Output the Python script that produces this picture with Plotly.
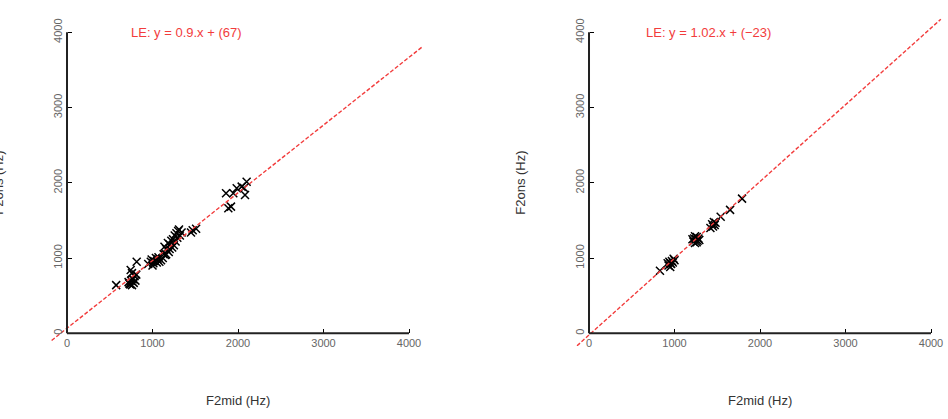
import plotly.graph_objects as go

# ---- data ----
left_mid = [575, 720, 740, 750, 760, 780, 770, 790, 760, 810, 745, 815, 730, 800,
            950, 980, 1000, 1020, 1040, 1060, 1080, 1100, 1050, 1120, 990, 1010, 1070, 1130, 1150,
            1140, 1160, 1180, 1200, 1220, 1240, 1260, 1280, 1300, 1320, 1290, 1270, 1250, 1230,
            1310, 1340, 1190, 1160, 1200,
            1470, 1510, 1450,
            1860, 1887, 1918, 1945, 1985, 2043, 2082, 2101, 2070]
left_ons = [640, 680, 650, 700, 640, 670, 720, 760, 800, 780, 840, 950, 660, 700,
            920, 950, 900, 960, 1000, 980, 950, 970, 940, 1000, 980, 930, 1010, 1050, 1040,
            1150, 1120, 1200, 1180, 1230, 1250, 1300, 1330, 1360, 1300, 1270, 1220, 1170, 1140,
            1380, 1340, 1080, 1050, 1120,
            1370, 1390, 1340,
            1860, 1661, 1683, 1860, 1927, 1949, 1838, 2015, 1930]

right_mid = [830, 930, 940, 950, 960, 970, 980, 990, 1000, 950, 920,
             1220, 1230, 1240, 1250, 1260, 1270, 1280, 1240, 1210, 1260, 1290,
             1420, 1440, 1460, 1470, 1480, 1450,
             1540, 1650, 1790]
right_ons = [830, 900, 950, 880, 920, 960, 940, 990, 970, 930, 930,
             1220, 1260, 1200, 1250, 1280, 1230, 1260, 1290, 1250, 1210, 1240,
             1400, 1450, 1480, 1440, 1470, 1420,
             1550, 1640, 1790]

fits = [(0.9, 67, "LE: y = 0.9.x + (67)"), (1.02, -23, "LE: y = 1.02.x + (\u221223)")]
fit_x = [[-180, 4160], [-140, 4115]]
tick_vals = [0, 1000, 2000, 3000, 4000]
tick_text = ["0", "1000", "2000", "3000", "4000"]

W, H = 948, 419
RED = "#f23c3c"
FONT = "Liberation Sans, Arial"

xr = [-190, 4170]
yr = [-170, 4200]
pxx = 342 / 4000.0
pxy = 301 / 4000.0
origins_px = [67, 589]
y0_px = 333.3

fig = go.Figure()
sets = [(left_mid, left_ons), (right_mid, right_ons)]
for i, ((mx, oy), (a, b, label), fx) in enumerate(zip(sets, fits, fit_x)):
    n = "" if i == 0 else "2"
    xa, ya = "x" + n, "y" + n
    fig.add_trace(go.Scatter(x=mx, y=oy, mode="markers", xaxis=xa, yaxis=ya,
                             marker=dict(symbol="x-thin", size=8,
                                         line=dict(color="black", width=1.5)),
                             showlegend=False))
    fig.add_trace(go.Scatter(x=fx, y=[a * v + b for v in fx], mode="lines", xaxis=xa, yaxis=ya,
                             line=dict(color=RED, width=1.4, dash="4px,2px"), showlegend=False))
    ox = origins_px[i]
    d0 = max(0.0, (ox + xr[0] * pxx) / W)
    d1 = min(1.0, (ox + xr[1] * pxx) / W)
    ybot = y0_px - yr[0] * pxy
    ytop = y0_px - yr[1] * pxy
    yd0 = (H - ybot) / H
    yd1 = (H - ytop) / H
    common = dict(showgrid=False, zeroline=False, showline=False, ticks="inside",
                  ticklen=4, tickwidth=1.2, tickcolor="black",
                  tickvals=tick_vals, ticktext=tick_text,
                  tickfont=dict(family=FONT, size=11, color="#666"))
    fig.update_layout(**{
        "xaxis" + n: dict(domain=[d0, d1], range=xr, anchor="free", ticklabelstandoff=2,
                          position=(H - y0_px) / H, **common),
        "yaxis" + n: dict(domain=[yd0, yd1], range=yr, anchor="free", ticklabelstandoff=3,
                          position=ox / W, tickangle=-90, **common),
    })
    # spines
    fig.add_shape(type="line", xref=xa, yref=ya, x0=0, y0=0, x1=4000, y1=0,
                  line=dict(color="#222", width=2))
    fig.add_shape(type="line", xref=xa, yref=ya, x0=0, y0=0, x1=0, y1=4000,
                  line=dict(color="#222", width=2))
    fig.add_annotation(x=1400, y=4000, xref=xa, yref=ya, text=label, showarrow=False,
                       xanchor="center", yanchor="middle",
                       font=dict(family=FONT, size=13, color=RED))
    fig.add_annotation(x=(ox + 171) / W, y=(H - 400) / H, xref="paper", yref="paper",
                       text="F2mid (Hz)", showarrow=False, xanchor="center", yanchor="middle",
                       font=dict(family=FONT, size=13, color="#333"))
    fig.add_annotation(x=(ox - 68.3) / W, y=(H - 183) / H, xref="paper", yref="paper",
                       text="F2ons (Hz)", showarrow=False, textangle=-90,
                       xanchor="center", yanchor="middle",
                       font=dict(family=FONT, size=13, color="#333"))

fig.update_layout(width=W, height=H, margin=dict(l=0, r=0, t=0, b=0),
                  plot_bgcolor="white", paper_bgcolor="white")
fig.write_html("out.html")
